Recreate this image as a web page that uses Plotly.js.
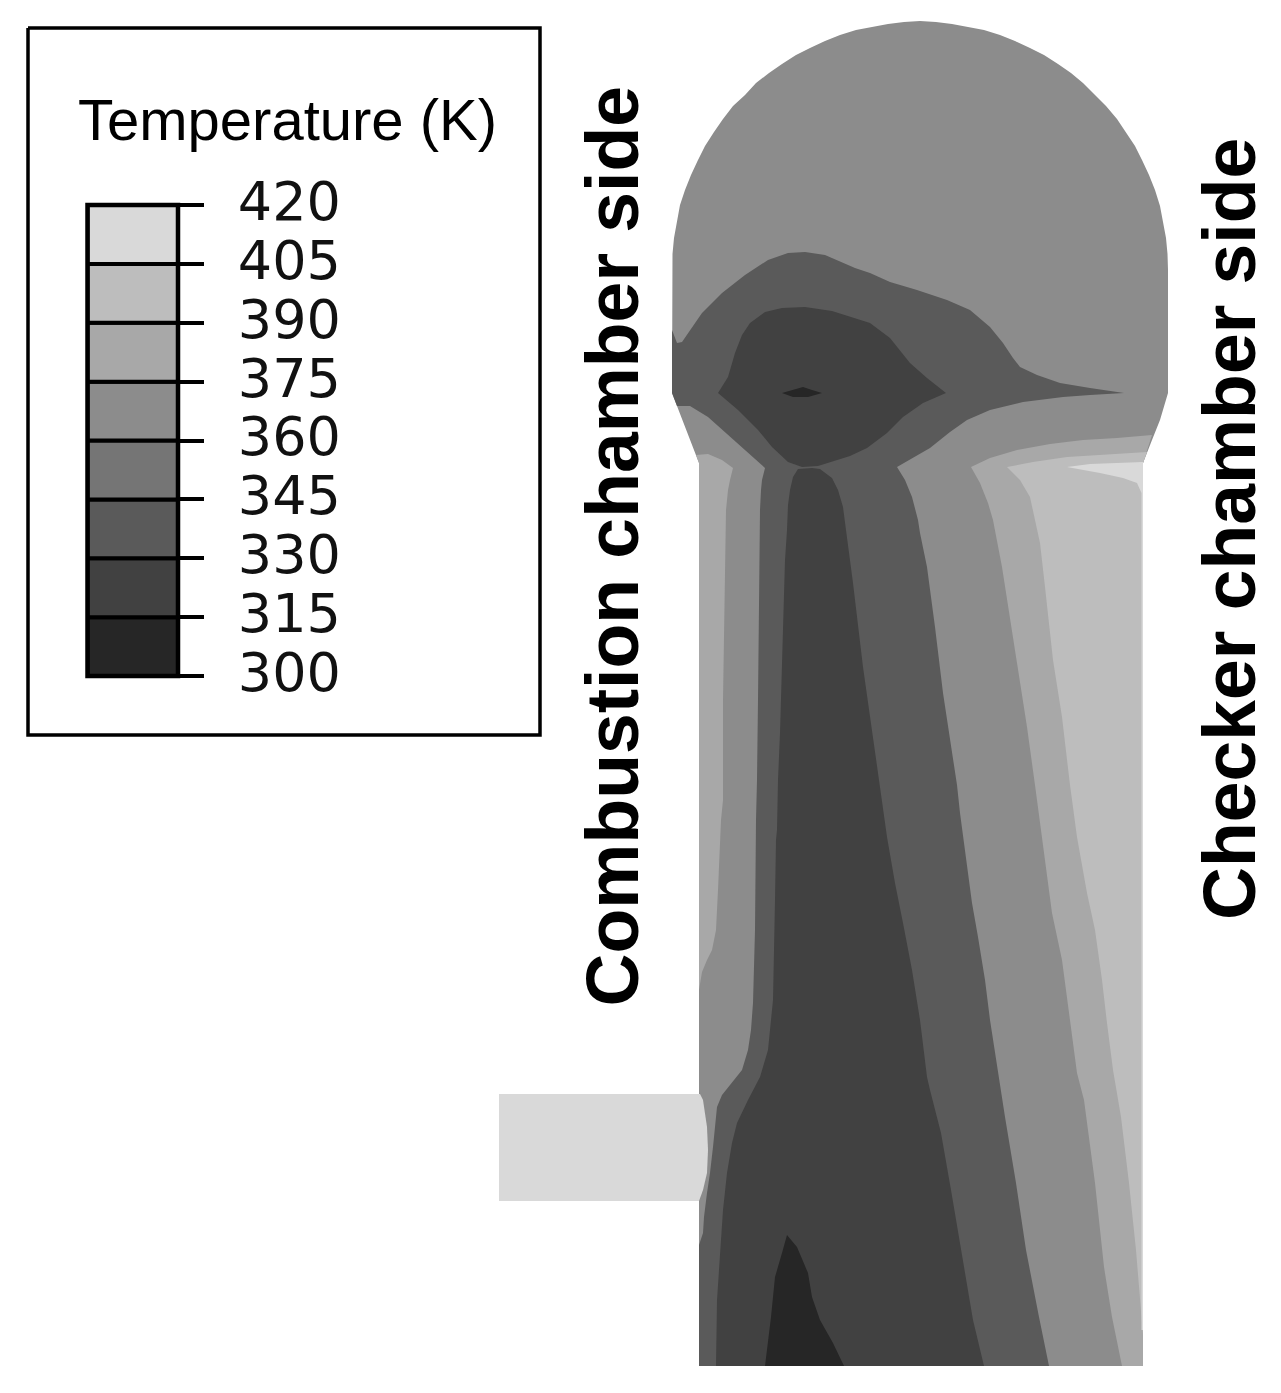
<!DOCTYPE html>
<html>
<head>
<meta charset="utf-8">
<script src="https://cdn.plot.ly/plotly-3.0.1.min.js"></script>
<style>html,body{margin:0;padding:0;background:#fff}</style>
</head>
<body>
<div id="chart" style="width:1281px;height:1393px"></div>
<script>
// Legend scale
const legendTitle = "Temperature (K)";
const levels = [300, 315, 330, 345, 360, 375, 390, 405, 420];
const bandColors = ["#262626", "#414141", "#5a5a5a", "#757575", "#8c8c8c", "#a8a8a8", "#bdbdbd", "#d9d9d9"];
const sideLabels = ["Combustion chamber side", "Checker chamber side"];
const legendBox = [[28,28],[540,28],[540,735],[28,735],[28,28]];

// Outline of the domain (360-375 K band fills it)
const outline360 = [[672,393],[672,270],[672.5,254],[674,238],[677,222],[680,205],[685,190],[691,175],[698,160],[705,146],[714,132],[723,119],[733,106],[745,95],[756,83],[769,73],[782,64],[796,55],[810,48],[825,41],[840,35],[856,30],[872,27],[888,24],[904,22],[920,21],[936,22],[952,24],[968,27],[984,30],[1000,35],[1015,41],[1030,48],[1044,55],[1058,64],[1071,73],[1083,83],[1095,95],[1106,106],[1117,119],[1126,132],[1135,146],[1142,160],[1149,175],[1155,190],[1160,206],[1163,222],[1166,238],[1167.5,254],[1168,270],[1168,393],[1160,420],[1152,440],[1143,463],[1143,1366],[699,1366],[699,463],[687,433],[677,406]];

// 375-390 K, right side
const right375 = [[1152,435],[1117,438],[1083,440],[1050,444],[1017,450],[990,458],[971,467],[980,483],[988,503],[993,520],[1002,567],[1010,617],[1018,667],[1027,727],[1035,785],[1043,847],[1052,913],[1062,960],[1068,1007],[1077,1073],[1084,1100],[1095,1183],[1104,1267],[1112,1317],[1122,1366],[1143,1366],[1143,463]];
// 390-405 K, right side
const right390 = [[1147,452],[1110,454],[1067,457],[1033,462],[1007,467],[1020,480],[1030,497],[1035,520],[1040,543],[1045,587],[1053,660],[1062,717],[1070,785],[1077,837],[1087,893],[1095,930],[1102,980],[1107,1023],[1113,1070],[1121,1117],[1129,1183],[1136,1250],[1143,1335],[1143,463]];
// 405-420 K, right side
const right405 = [[1067,467],[1090,464],[1143,462],[1143,1330],[1141.5,1330],[1141.5,493],[1137,483],[1123,478],[1100,473]];
// 375-390 K, left side
const left375 = [[696,455],[708,454],[722,460],[733,468],[730,480],[728,490],[726,510],[725,580],[723,700],[723,800],[721,820],[718,890],[716,930],[712,950],[707,960],[702,972],[699,990],[699,463]];

// 330-345 K band
const band330 = [[672,330],[677,343],[682,342],[690,330],[702,313],[722,293],[745,275],[768,260],[788,253],[805,252],[825,255],[855,268],[870,273],[890,282],[917,290],[947,300],[970,310],[990,327],[1003,343],[1013,358],[1020,367],[1037,375],[1060,383],[1090,388],[1124,393],[1090,395],[1063,397],[1023,402],[990,410],[967,420],[950,432],[930,448],[913,458],[897,467],[905,480],[912,497],[918,520],[920,533],[927,567],[935,627],[943,693],[950,740],[957,785],[960,813],[967,863],[972,903],[978,937],[985,980],[990,1020],[996,1060],[1005,1117],[1016,1183],[1026,1250],[1039,1317],[1049,1366],[699,1366],[699,1245],[703,1233],[704,1217],[707,1193],[710,1173],[713,1147],[715,1127],[717,1107],[722,1095],[732,1083],[742,1070],[748,1050],[751,1030],[753,1003],[754,960],[755,930],[756,820],[757,780],[758,700],[759,560],[760,510],[761,490],[762,480],[765,468],[745,450],[725,432],[708,417],[690,406],[677,406],[672,393]];

// 315-330 K, dome pocket and column
const pocket315 = [[718,393],[728,377],[735,353],[742,335],[750,323],[765,312],[782,308],[805,307],[832,311],[855,318],[870,323],[890,338],[910,363],[927,378],[946,393],[923,403],[903,417],[887,433],[867,448],[850,456],[818,466],[802,467],[788,462],[772,447],[758,430],[738,410]];
const column315 = [[798,469],[812,468],[820,469],[832,478],[838,490],[843,507],[846,530],[853,583],[863,667],[872,733],[879,780],[887,837],[895,883],[903,923],[912,970],[920,1020],[927,1077],[930,1090],[941,1133],[951,1190],[962,1257],[973,1320],[984,1366],[716,1366],[717,1300],[720,1253],[723,1210],[727,1173],[732,1143],[737,1123],[748,1100],[760,1077],[768,1050],[771,1020],[773,1000],[775,900],[776,840],[777,830],[778,780],[780,733],[783,640],[785,560],[787,530],[788,505],[790,490],[793,477]];

// 300-315 K pockets
const core300 = [[782,393],[793,390],[803,387],[812,390],[822,393],[808,397],[793,397]];
const base300 = [[787,1235],[797,1247],[808,1273],[812,1297],[820,1320],[833,1343],[844,1366],[765,1366],[771,1317],[775,1277],[782,1253]];

// Inlet block
const inlet = [[499,1094],[700,1094],[703,1100],[707,1127],[708,1150],[707,1173],[703,1190],[699,1201],[499,1201]];

const xs = p => p.map(q => q[0]);
const ys = p => p.map(q => q[1]);
const patch = (p, color, name) => ({
  type: "scatter", mode: "lines", name, x: xs(p), y: ys(p), fill: "toself",
  fillcolor: color, line: {width: 0, color: color}, hoverinfo: "skip", xaxis: "x", yaxis: "y"
});

const traces = [
  patch(outline360, bandColors[4], "360-375"),
  patch(right375, bandColors[5], "375-390 right"),
  patch(right390, bandColors[6], "390-405 right"),
  patch(right405, bandColors[7], "405-420 right"),
  patch(left375, bandColors[5], "375-390 left"),
  patch(band330, bandColors[2], "330-345"),
  patch(pocket315, bandColors[1], "315-330 dome"),
  patch(column315, bandColors[1], "315-330 column"),
  patch(core300, bandColors[0], "300-315 core"),
  patch(base300, bandColors[0], "300-315 base"),
  patch(inlet, bandColors[7], "inlet"),
  {type: "scatter", mode: "lines", x: xs(legendBox), y: ys(legendBox), line: {color: "#000", width: 3.5}, hoverinfo: "skip", xaxis: "x", yaxis: "y"},
  {type: "bar", x: bandColors.map(() => 0), y: bandColors.map((c, i) => levels[i+1] - levels[i]), base: levels.slice(0, -1),
   width: 1, cliponaxis: false, marker: {color: bandColors, line: {color: "#000", width: 4}}, hoverinfo: "skip", xaxis: "x2", yaxis: "y2"}
];

const W = 1281, H = 1393;
const layout = {
  width: W, height: H, autosize: false, showlegend: false,
  margin: {l: 0, r: 0, t: 0, b: 0, pad: 0},
  paper_bgcolor: "#fff", plot_bgcolor: "rgba(0,0,0,0)", barmode: "overlay",
  xaxis: {range: [0, W], domain: [0, 1], visible: false, fixedrange: true},
  yaxis: {range: [H, 0], domain: [0, 1], visible: false, fixedrange: true},
  xaxis2: {range: [-0.5, 0.5], domain: [87.5/W, 178/W], anchor: "y2", visible: false, fixedrange: true},
  yaxis2: {range: [300, 420], domain: [(H-676)/H, (H-205)/H], anchor: "x2", side: "right", fixedrange: true,
    tickmode: "array", tickvals: levels, ticktext: levels.map(String), ticks: "outside", ticklen: 25, tickwidth: 4, tickcolor: "#000",
    ticklabelstandoff: 23, ticklabelshift: -4, showgrid: false, zeroline: false, showline: false,
    tickfont: {family: "DejaVu Sans", size: 54, color: "#111"}},
  shapes: [
    {type: "rect", xref: "x2 domain", yref: "y2 domain", x0: 0, x1: 1, y0: 0, y1: 1, layer: "above",
     fillcolor: "rgba(0,0,0,0)", line: {color: "#000", width: 4.5}}
  ],
  annotations: [
    {xref: "x", yref: "y", x: 287.5, y: 119, text: legendTitle, showarrow: false, xanchor: "center", yanchor: "middle",
     font: {family: "Liberation Sans", size: 58, color: "#000"}},
    {xref: "x", yref: "y", x: 612, y: 546.5, text: sideLabels[0], showarrow: false, textangle: -90, xanchor: "center", yanchor: "middle",
     font: {family: "Liberation Sans", size: 73.3, color: "#000", weight: 700}},
    {xref: "x", yref: "y", x: 1230, y: 529, text: sideLabels[1], showarrow: false, textangle: -90, xanchor: "center", yanchor: "middle",
     font: {family: "Liberation Sans", size: 73.3, color: "#000", weight: 700}}
  ]
};
Plotly.newPlot("chart", traces, layout, {displayModeBar: false, staticPlot: true});
</script>
</body>
</html>
